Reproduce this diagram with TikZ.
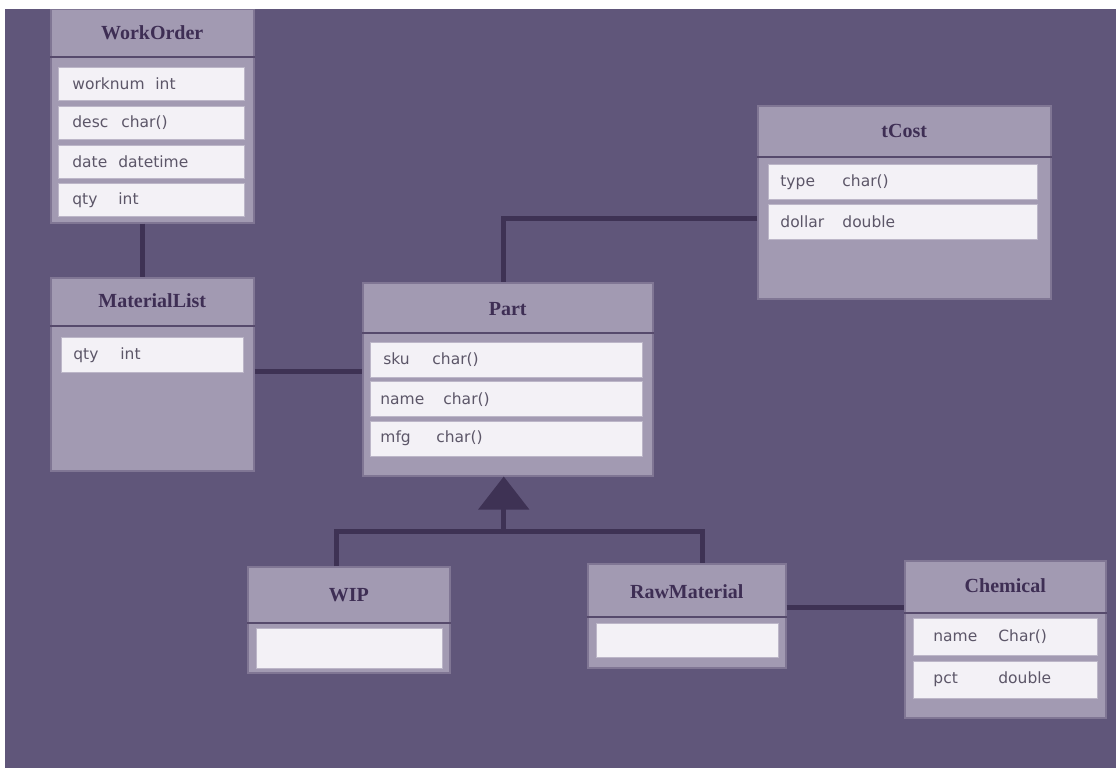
\documentclass[tikz,border=0pt]{standalone}
\usepackage{fontspec}
\setmainfont{Liberation Serif}
\newfontfamily\fieldfont{DejaVu Sans}
\usepackage{tikz}
\usetikzlibrary{positioning,chains,arrows.meta}
\definecolor{pagebg}{RGB}{96,86,122}
\definecolor{boxfill}{RGB}{162,154,178}
\definecolor{boxline}{RGB}{128,118,148}
\definecolor{headline}{RGB}{86,74,108}
\definecolor{fieldfill}{RGB}{243,241,246}
\definecolor{fieldline}{RGB}{188,182,200}
\definecolor{titletext}{RGB}{62,46,84}
\definecolor{fieldtext}{RGB}{92,86,104}
\definecolor{linkcol}{RGB}{62,50,84}
\newcommand\fld[3]{\makebox[#1pt][l]{#2}#3}% name, then type at a fixed offset
\tikzset{
	class diagram/.style={
		x=1pt,y=-1pt, % one unit = one pixel of the screen shot
		link/.style={draw=linkcol,line width=5pt},
		generalize/.style={-{Triangle[width=50pt,length=33pt]}}
	},
	classbox/.style={
		rectangle,
		draw=boxline,
		line width=1.5pt,
		fill=boxfill,
		anchor=north west,
		inner sep=0pt
	},
	classname/.style={
		inner sep=0pt,
		text=titletext,
		font=\fontsize{20}{22}\selectfont\bfseries
	},
	headrule/.style={
		draw=headline,
		line width=2pt
	},
	field/.style={
		on chain,
		rectangle,
		draw=fieldline,
		line width=0.8pt,
		fill=fieldfill,
		inner ysep=0pt,
		align=left,
		text=fieldtext,
		font=\fieldfont\fontsize{15.5}{17}\selectfont
	}
}

\begin{document}
\begin{tikzpicture}[class diagram]
	\useasboundingbox (0,0) rectangle (1116,768);
	\fill[pagebg] (5,9) rectangle (1116,768);

	% WorkOrder
	\node[classbox,minimum width=203pt,minimum height=213pt] (workorder) at (50,9) {};
	\node[classname] (workorder name) at ([yshift=-24pt]workorder.north) {WorkOrder};
	\draw[headrule] ([yshift=-48pt]workorder.north west) -- ([yshift=-48pt]workorder.north east);
	\begin{scope}[start chain=going below,node distance=5pt,
		every node/.style={field,inner xsep=14pt,text width=158pt,minimum height=33pt}]
		\node[at={(58,67)},anchor=north west] (wo1) {\fld{83}{worknum}{int}};
		\node (wo2) {\fld{49}{desc}{char()}};
		\node (wo3) {\fld{46}{date}{datetime}};
		\node (wo4) {\fld{46}{qty}{int}};
	\end{scope}

	% MaterialList
	\node[classbox,minimum width=203pt,minimum height=193pt] (materiallist) at (50,277) {};
	\node[classname] (materiallist name) at ([yshift=-24pt]materiallist.north) {MaterialList};
	\draw[headrule] ([yshift=-49pt]materiallist.north west) -- ([yshift=-49pt]materiallist.north east);
	\begin{scope}[start chain=going below,
		every node/.style={field,inner xsep=12pt,text width=158pt,minimum height=35pt}]
		\node[at={(61,337)},anchor=north west] (ml1) {\fld{47}{qty}{int}};
	\end{scope}

	% Part
	\node[classbox,minimum width=290pt,minimum height=193pt] (part) at (362,282) {};
	\node[classname] (part name) at ([yshift=-27pt]part.north) {Part};
	\draw[headrule] ([yshift=-51pt]part.north west) -- ([yshift=-51pt]part.north east);
	\begin{scope}[start chain=going below,node distance=3.5pt,
		every node/.style={field,inner xsep=10pt,text width=252pt,minimum height=35pt}]
		\node[at={(370,342)},anchor=north west] (part1) {\hspace{3pt}\fld{49}{sku}{char()}};
		\node (part2) {\fld{63}{name}{char()}};
		\node (part3) {\fld{56}{mfg}{char()}};
	\end{scope}

	% tCost
	\node[classbox,minimum width=293pt,minimum height=193pt] (tcost) at (757,105) {};
	\node[classname] (tcost name) at ([yshift=-26pt]tcost.north) {tCost};
	\draw[headrule] ([yshift=-52pt]tcost.north west) -- ([yshift=-52pt]tcost.north east);
	\begin{scope}[start chain=going below,node distance=4pt,
		every node/.style={field,inner xsep=12pt,text width=245pt,minimum height=35pt}]
		\node[at={(768,164)},anchor=north west] (tcost1) {\fld{62}{type}{char()}};
		\node (tcost2) {\fld{62}{dollar}{double}};
	\end{scope}

	% WIP
	\node[classbox,minimum width=202pt,minimum height=106pt] (wip) at (247,566) {};
	\node[classname] (wip name) at ([yshift=-29pt]wip.north) {WIP};
	\draw[headrule] ([yshift=-57pt]wip.north west) -- ([yshift=-57pt]wip.north east);
	\begin{scope}[start chain=going below,
		every node/.style={field,inner xsep=12pt,text width=162pt,minimum height=40pt}]
		\node[at={(256,628)},anchor=north west] (wip1) {};
	\end{scope}

	% RawMaterial
	\node[classbox,minimum width=198pt,minimum height=104pt] (raw) at (587,563) {};
	\node[classname] (raw name) at ([yshift=-29pt]raw.north) {RawMaterial};
	\draw[headrule] ([yshift=-54pt]raw.north west) -- ([yshift=-54pt]raw.north east);
	\begin{scope}[start chain=going below,
		every node/.style={field,inner xsep=12pt,text width=158pt,minimum height=34pt}]
		\node[at={(596,623)},anchor=north west] (raw1) {};
	\end{scope}

	% Chemical
	\node[classbox,minimum width=201pt,minimum height=157pt] (chemical) at (904,560) {};
	\node[classname] (chemical name) at ([yshift=-26pt]chemical.north) {Chemical};
	\draw[headrule] ([yshift=-53pt]chemical.north west) -- ([yshift=-53pt]chemical.north east);
	\begin{scope}[start chain=going below,node distance=5pt,
		every node/.style={field,inner xsep=20pt,text width=144pt,minimum height=37pt}]
		\node[at={(913,618)},anchor=north west] (chem1) {\fld{65}{name}{Char()}};
		\node (chem2) {\fld{65}{pct}{double}};
	\end{scope}

	% associations
	\draw[link] ([xshift=-10pt]workorder.south) -- ([xshift=-10pt]materiallist.north);
	\draw[link] ([yshift=3pt]materiallist.east) -- ([yshift=3pt]materiallist.east -| part.west);
	\draw[link] ([yshift=-16pt]tcost.west) -| ([xshift=-4pt]part.north);
	\draw[link] ([yshift=8pt]raw.east) -- ([yshift=8pt]raw.east -| chemical.west);

	% generalization
	\coordinate (gen) at ([xshift=-4pt,yshift=-55pt]part.south);
	\draw[link] ([xshift=-12pt]wip.north) |- (gen) -| ([xshift=16pt]raw.north);
	\draw[link,generalize] (gen) -- ([xshift=-4pt]part.south);
\end{tikzpicture}
\end{document}
